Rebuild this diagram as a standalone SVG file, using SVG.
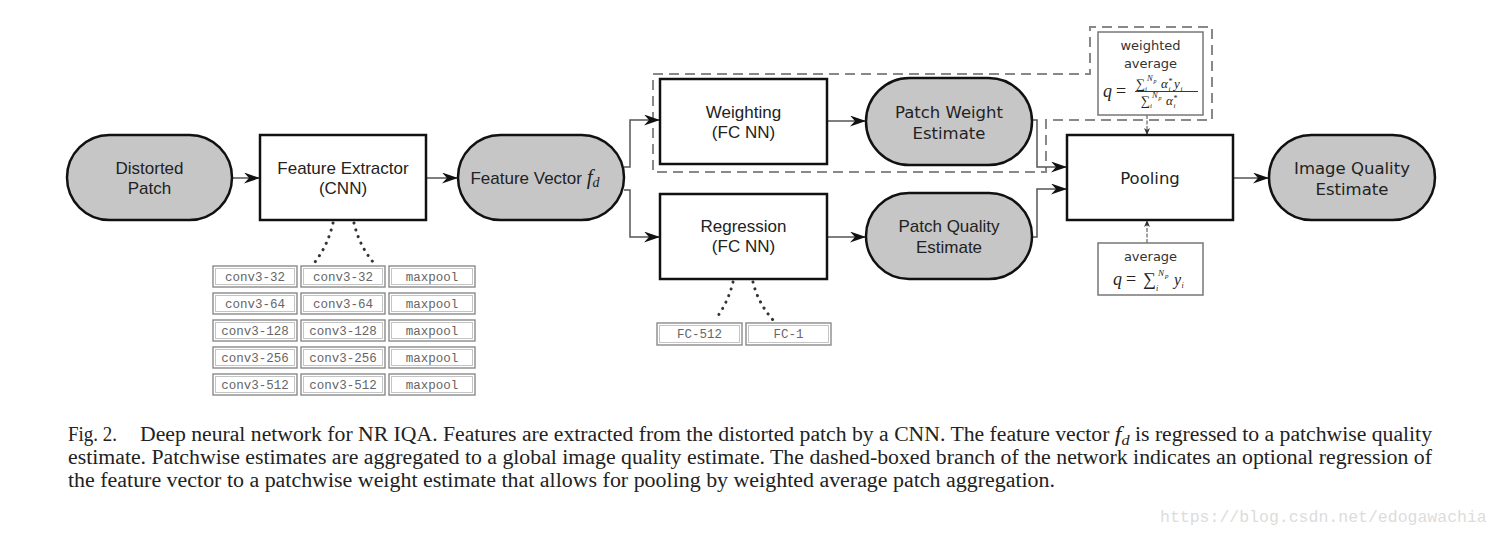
<svg xmlns="http://www.w3.org/2000/svg" width="1500" height="535" viewBox="0 0 1500 535">
<style>
.term{fill:#c6c6c6;stroke:#111;stroke-width:2.5}
.proc{fill:#fff;stroke:#111;stroke-width:2.5}
.lbl{font-family:"Liberation Sans",Arial,sans-serif;font-size:17px;fill:#222;text-anchor:middle}
.lbd{font-family:"DejaVu Sans",sans-serif;font-size:16.5px;fill:#222;text-anchor:middle}
.conn{fill:none;stroke:#555;stroke-width:1.5}
.dot{fill:none;stroke:#333;stroke-width:3;stroke-dasharray:0.1,7;stroke-linecap:round}
.cell{fill:#fff;stroke:#8a8a8a;stroke-width:1.4}
.cin{fill:none;stroke:#c4c4c4;stroke-width:1}
.mono{font-family:"Liberation Mono","Courier New",monospace;font-size:12.5px;fill:#666;text-anchor:middle}
.dash{fill:none;stroke:#888;stroke-width:2;stroke-dasharray:10,6}
.box{fill:#fff;stroke:#777;stroke-width:1.5}
.small{font-family:"DejaVu Sans",sans-serif;font-size:13px;fill:#333;text-anchor:middle}
.m{font-family:"Liberation Serif","Times New Roman",serif;font-style:italic;fill:#222}
.mr{font-family:"Liberation Serif","Times New Roman",serif;fill:#222}
.cap{font-family:"Liberation Serif","Times New Roman",serif;font-size:20px;fill:#222}
</style>
<defs>
<marker id="ah" markerUnits="userSpaceOnUse" markerWidth="17" markerHeight="11" refX="16" refY="5.5" orient="auto">
<path d="M0,0 L16,5.5 L0,11 L5,5.5 z" fill="#111"/>
</marker>
<marker id="as" markerUnits="userSpaceOnUse" markerWidth="8" markerHeight="8" refX="7" refY="3" orient="auto">
<path d="M0,0 L7,3 L0,6 L2,3 z" fill="#333"/>
</marker>
</defs>
<rect width="1500" height="535" fill="#fff"/>

<g id="dashed-branch">
<path class="dash" d="M653,74 H1090 V27 H1212 V120 H1046 V172 H653 Z"/>
</g>

<g id="connectors">
<line class="conn" x1="232" y1="178" x2="260" y2="178" marker-end="url(#ah)"/>
<line class="conn" x1="426" y1="178" x2="458" y2="178" marker-end="url(#ah)"/>
<polyline class="conn" points="624,167 630,167 630,120 660,120" marker-end="url(#ah)"/>
<polyline class="conn" points="624,190 630,190 630,237 660,237" marker-end="url(#ah)"/>
<line class="conn" x1="827" y1="121" x2="866" y2="121" marker-end="url(#ah)"/>
<line class="conn" x1="827" y1="237" x2="866" y2="237" marker-end="url(#ah)"/>
<polyline class="conn" points="1032,120 1037,120 1037,167 1067,167" marker-end="url(#ah)"/>
<polyline class="conn" points="1032,237 1037,237 1037,189 1067,189" marker-end="url(#ah)"/>
<line class="conn" x1="1233" y1="178" x2="1269" y2="178" marker-end="url(#ah)"/>
<line x1="1147" y1="115" x2="1147" y2="135" stroke="#444" stroke-width="1" stroke-dasharray="4,1.5" marker-end="url(#as)"/>
<line x1="1147" y1="243" x2="1147" y2="220" stroke="#444" stroke-width="1" stroke-dasharray="4,1.5" marker-end="url(#as)"/>
<path class="dot" d="M333,223 Q328,245 315,262"/>
<path class="dot" d="M354,223 Q359,245 373,262"/>
<path class="dot" d="M733,282 Q728,303 715,320"/>
<path class="dot" d="M753,282 Q758,303 773,320"/>
</g>

<g id="distorted-patch">
<rect class="term" x="67" y="135" width="165" height="85" rx="42.5"/>
<text class="lbl" x="149.5" y="174">Distorted</text>
<text class="lbl" x="149.5" y="194">Patch</text>
</g>

<g id="feature-extractor">
<rect class="proc" x="260" y="135" width="166" height="85"/>
<text class="lbl" x="343" y="174">Feature Extractor</text>
<text class="lbl" x="343" y="194">(CNN)</text>
</g>

<g id="cnn-layers">
<g>
<rect class="cell" x="213" y="266" width="84" height="21"/><rect class="cin" x="215.5" y="268.5" width="79" height="16"/>
<rect class="cell" x="301" y="266" width="84" height="21"/><rect class="cin" x="303.5" y="268.5" width="79" height="16"/>
<rect class="cell" x="389" y="266" width="86" height="21"/><rect class="cin" x="391.5" y="268.5" width="81" height="16"/>
<text class="mono" x="255" y="281">conv3-32</text><text class="mono" x="343" y="281">conv3-32</text><text class="mono" x="432" y="281">maxpool</text>
</g>
<g>
<rect class="cell" x="213" y="293" width="84" height="21"/><rect class="cin" x="215.5" y="295.5" width="79" height="16"/>
<rect class="cell" x="301" y="293" width="84" height="21"/><rect class="cin" x="303.5" y="295.5" width="79" height="16"/>
<rect class="cell" x="389" y="293" width="86" height="21"/><rect class="cin" x="391.5" y="295.5" width="81" height="16"/>
<text class="mono" x="255" y="308">conv3-64</text><text class="mono" x="343" y="308">conv3-64</text><text class="mono" x="432" y="308">maxpool</text>
</g>
<g>
<rect class="cell" x="213" y="320" width="84" height="21"/><rect class="cin" x="215.5" y="322.5" width="79" height="16"/>
<rect class="cell" x="301" y="320" width="84" height="21"/><rect class="cin" x="303.5" y="322.5" width="79" height="16"/>
<rect class="cell" x="389" y="320" width="86" height="21"/><rect class="cin" x="391.5" y="322.5" width="81" height="16"/>
<text class="mono" x="255" y="335">conv3-128</text><text class="mono" x="343" y="335">conv3-128</text><text class="mono" x="432" y="335">maxpool</text>
</g>
<g>
<rect class="cell" x="213" y="347" width="84" height="21"/><rect class="cin" x="215.5" y="349.5" width="79" height="16"/>
<rect class="cell" x="301" y="347" width="84" height="21"/><rect class="cin" x="303.5" y="349.5" width="79" height="16"/>
<rect class="cell" x="389" y="347" width="86" height="21"/><rect class="cin" x="391.5" y="349.5" width="81" height="16"/>
<text class="mono" x="255" y="362">conv3-256</text><text class="mono" x="343" y="362">conv3-256</text><text class="mono" x="432" y="362">maxpool</text>
</g>
<g>
<rect class="cell" x="213" y="374" width="84" height="21"/><rect class="cin" x="215.5" y="376.5" width="79" height="16"/>
<rect class="cell" x="301" y="374" width="84" height="21"/><rect class="cin" x="303.5" y="376.5" width="79" height="16"/>
<rect class="cell" x="389" y="374" width="86" height="21"/><rect class="cin" x="391.5" y="376.5" width="81" height="16"/>
<text class="mono" x="255" y="389">conv3-512</text><text class="mono" x="343" y="389">conv3-512</text><text class="mono" x="432" y="389">maxpool</text>
</g>
</g>

<g id="feature-vector">
<rect class="term" x="458" y="135" width="166" height="85" rx="42.5"/>
<text class="lbl" x="535" y="184">Feature Vector <tspan class="m" font-size="21">f</tspan><tspan class="m" font-size="14" dy="3">d</tspan></text>
</g>

<g id="weighting">
<rect class="proc" x="660" y="79" width="167" height="85"/>
<text class="lbl" x="743.5" y="118">Weighting</text>
<text class="lbl" x="743.5" y="138">(FC NN)</text>
</g>

<g id="regression">
<rect class="proc" x="660" y="194" width="167" height="85"/>
<text class="lbl" x="743.5" y="232">Regression</text>
<text class="lbl" x="743.5" y="252">(FC NN)</text>
</g>

<g id="fc-layers">
<rect class="cell" x="657" y="323" width="85" height="22"/><rect class="cin" x="659.5" y="325.5" width="80" height="17"/>
<rect class="cell" x="746" y="323" width="85" height="22"/><rect class="cin" x="748.5" y="325.5" width="80" height="17"/>
<text class="mono" x="699.5" y="338">FC-512</text>
<text class="mono" x="788.5" y="338">FC-1</text>
</g>

<g id="patch-weight-estimate">
<rect class="term" x="866" y="78" width="166" height="87" rx="43.5"/>
<text class="lbd" x="949" y="118">Patch Weight</text>
<text class="lbd" x="949" y="139">Estimate</text>
</g>

<g id="patch-quality-estimate">
<rect class="term" x="866" y="193" width="166" height="86" rx="43"/>
<text class="lbl" x="949" y="232">Patch Quality</text>
<text class="lbl" x="949" y="253">Estimate</text>
</g>

<g id="pooling">
<rect class="proc" x="1067" y="135" width="166" height="85"/>
<text class="lbd" x="1150" y="184">Pooling</text>
</g>

<g id="weighted-average">
<rect class="box" x="1098" y="32" width="105" height="83"/>
<text class="small" x="1150.5" y="50">weighted</text>
<text class="small" x="1150.5" y="68">average</text>
<text class="m" x="1103" y="97" font-size="18">q</text>
<text class="mr" x="1116" y="97" font-size="18">=</text>
<text class="mr" x="1136" y="88" font-size="13">∑</text>
<text class="m" x="1145" y="91" font-size="7">i</text>
<text class="m" x="1147" y="81" font-size="8.5">N</text>
<text class="m" x="1153.5" y="83" font-size="6">p</text>
<text class="m" x="1161" y="88" font-size="13">α</text>
<text class="mr" x="1168.5" y="84" font-size="8">*</text>
<text class="m" x="1168.5" y="91" font-size="7">i</text>
<text class="m" x="1174" y="88" font-size="13">y</text>
<text class="m" x="1180.5" y="91" font-size="7">i</text>
<line x1="1135" y1="91.5" x2="1198" y2="91.5" stroke="#222" stroke-width="0.9"/>
<text class="mr" x="1141" y="105" font-size="13">∑</text>
<text class="m" x="1150" y="108" font-size="7">i</text>
<text class="m" x="1152" y="98" font-size="8.5">N</text>
<text class="m" x="1158.5" y="100" font-size="6">p</text>
<text class="m" x="1166" y="105" font-size="13">α</text>
<text class="mr" x="1173.5" y="101" font-size="8">*</text>
<text class="m" x="1173.5" y="108" font-size="7">i</text>
</g>

<g id="average">
<rect class="box" x="1098" y="243" width="105" height="52"/>
<text class="small" x="1150.5" y="261">average</text>
<text class="m" x="1113" y="285" font-size="18">q</text>
<text class="mr" x="1126" y="285" font-size="18">=</text>
<text class="mr" x="1143" y="285" font-size="18">∑</text>
<text class="m" x="1156" y="291" font-size="8">i</text>
<text class="m" x="1158" y="276" font-size="9">N</text>
<text class="m" x="1165" y="278" font-size="7">p</text>
<text class="m" x="1174" y="285" font-size="16">y</text>
<text class="m" x="1181.5" y="288" font-size="8">i</text>
</g>

<g id="image-quality-estimate">
<rect class="term" x="1269" y="135" width="166" height="85" rx="42.5"/>
<text class="lbd" x="1352" y="174">Image Quality</text>
<text class="lbd" x="1352" y="195">Estimate</text>
</g>

<g id="caption">
<text class="cap" x="68" y="441" textLength="49" lengthAdjust="spacingAndGlyphs">Fig. 2.</text>
<text class="cap" x="140" y="441" textLength="1292" lengthAdjust="spacingAndGlyphs">Deep neural network for NR IQA. Features are extracted from the distorted patch by a CNN. The feature vector <tspan font-style="italic" font-size="22">f</tspan><tspan font-style="italic" font-size="15" dy="4">d</tspan><tspan dy="-4"> is regressed to a patchwise quality</tspan></text>
<text class="cap" x="68" y="464" textLength="1364" lengthAdjust="spacingAndGlyphs">estimate. Patchwise estimates are aggregated to a global image quality estimate. The dashed-boxed branch of the network indicates an optional regression of</text>
<text class="cap" x="68" y="487" textLength="987" lengthAdjust="spacingAndGlyphs">the feature vector to a patchwise weight estimate that allows for pooling by weighted average patch aggregation.</text>
</g>

<text x="1160" y="522" font-family="Liberation Mono, monospace" font-size="16.5" fill="#dcdcdc">https://blog.csdn.net/edogawachia</text>
</svg>
